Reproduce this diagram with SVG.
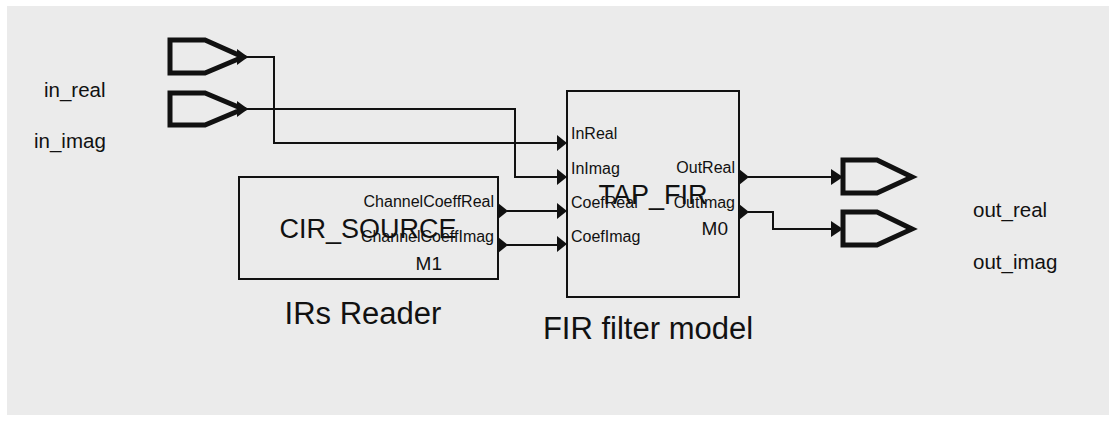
<svg xmlns="http://www.w3.org/2000/svg" width="1116" height="421" viewBox="0 0 1116 421">
<defs>
<style>
.port{fill:none;stroke:#111;stroke-width:5;stroke-linejoin:miter}
.wire{fill:none;stroke:#111;stroke-width:2}
.box{fill:none;stroke:#111;stroke-width:2}
.tri{fill:#111}
text{font-family:"Liberation Sans",Arial,sans-serif;fill:#111}
.pl{font-size:16px}
.big{font-size:27px}
.inst{font-size:19px}
.cap{font-size:31px}
.io{font-size:20.5px}
</style>
</defs>
<rect x="0" y="0" width="1116" height="421" fill="#ffffff"/>
<rect x="7" y="6" width="1102" height="409" fill="#ebebeb"/>

<g id="in_real">
<path class="port" d="M170 40 L205 40 L243 57 L205 73 L170 73 Z"/>
<path class="tri" d="M237 49 L248 57 L237 65 Z"/>
<text class="io" x="44" y="97">in_real</text>
</g>
<g id="in_imag">
<path class="port" d="M170 93 L205 93 L243 109 L205 125 L170 125 Z"/>
<path class="tri" d="M237 101 L248 109 L237 117 Z"/>
<text class="io" x="34" y="148">in_imag</text>
</g>

<g id="out_real">
<path class="port" d="M843 160 L877 160 L912 177 L877 193 L843 193 Z"/>
<text class="io" x="973" y="217">out_real</text>
</g>
<g id="out_imag">
<path class="port" d="M843 212 L877 212 L912 229 L877 245 L843 245 Z"/>
<text class="io" x="973" y="269">out_imag</text>
</g>

<g id="TAP_FIR">
<rect class="box" x="567" y="91" width="172" height="206"/>
<text class="big" x="653" y="204" text-anchor="middle">TAP_FIR</text>
<text class="inst" x="728" y="235" text-anchor="end">M0</text>
<text class="pl" x="571" y="139">InReal</text>
<text class="pl" x="571" y="174">InImag</text>
<text class="pl" x="571" y="208">CoefReal</text>
<text class="pl" x="571" y="242">CoefImag</text>
<text class="pl" x="735" y="173" text-anchor="end">OutReal</text>
<text class="pl" x="735" y="208" text-anchor="end">OutImag</text>
<path class="tri" d="M557 135 L567 143 L557 151 Z"/>
<path class="tri" d="M557 169 L567 177 L557 185 Z"/>
<path class="tri" d="M557 203 L567 211 L557 219 Z"/>
<path class="tri" d="M557 236 L567 244 L557 252 Z"/>
<path class="tri" d="M739 169 L749 177 L739 185 Z"/>
<path class="tri" d="M739 204 L749 212 L739 220 Z"/>
<text class="cap" x="648" y="339" text-anchor="middle">FIR filter model</text>
</g>

<g id="CIR_SOURCE">
<rect class="box" x="239" y="177" width="259" height="102"/>
<text class="big" x="368" y="238" text-anchor="middle">CIR_SOURCE</text>
<text class="pl" x="494" y="207" text-anchor="end">ChannelCoeffReal</text>
<text class="pl" x="494" y="242" text-anchor="end">ChannelCoeffImag</text>
<text class="inst" x="442" y="270" text-anchor="end">M1</text>
<path class="tri" d="M498 203 L508 211 L498 219 Z"/>
<path class="tri" d="M498 237 L508 245 L498 253 Z"/>
<text class="cap" x="363" y="324" text-anchor="middle">IRs Reader</text>
</g>

<g id="connectors">
<path class="wire" d="M247 57 L274 57 L274 143 L558 143"/>
<path class="wire" d="M247 109 L515 109 L515 177 L558 177"/>
<path class="wire" d="M507 211 L558 211"/>
<path class="wire" d="M507 245 L558 245"/>
<path class="wire" d="M748 177 L833 177"/>
<path class="wire" d="M748 212 L773 212 L773 229 L833 229"/>
<path class="tri" d="M831 169 L843 177 L831 185 Z"/>
<path class="tri" d="M831 221 L843 229 L831 237 Z"/>
</g>
</svg>
